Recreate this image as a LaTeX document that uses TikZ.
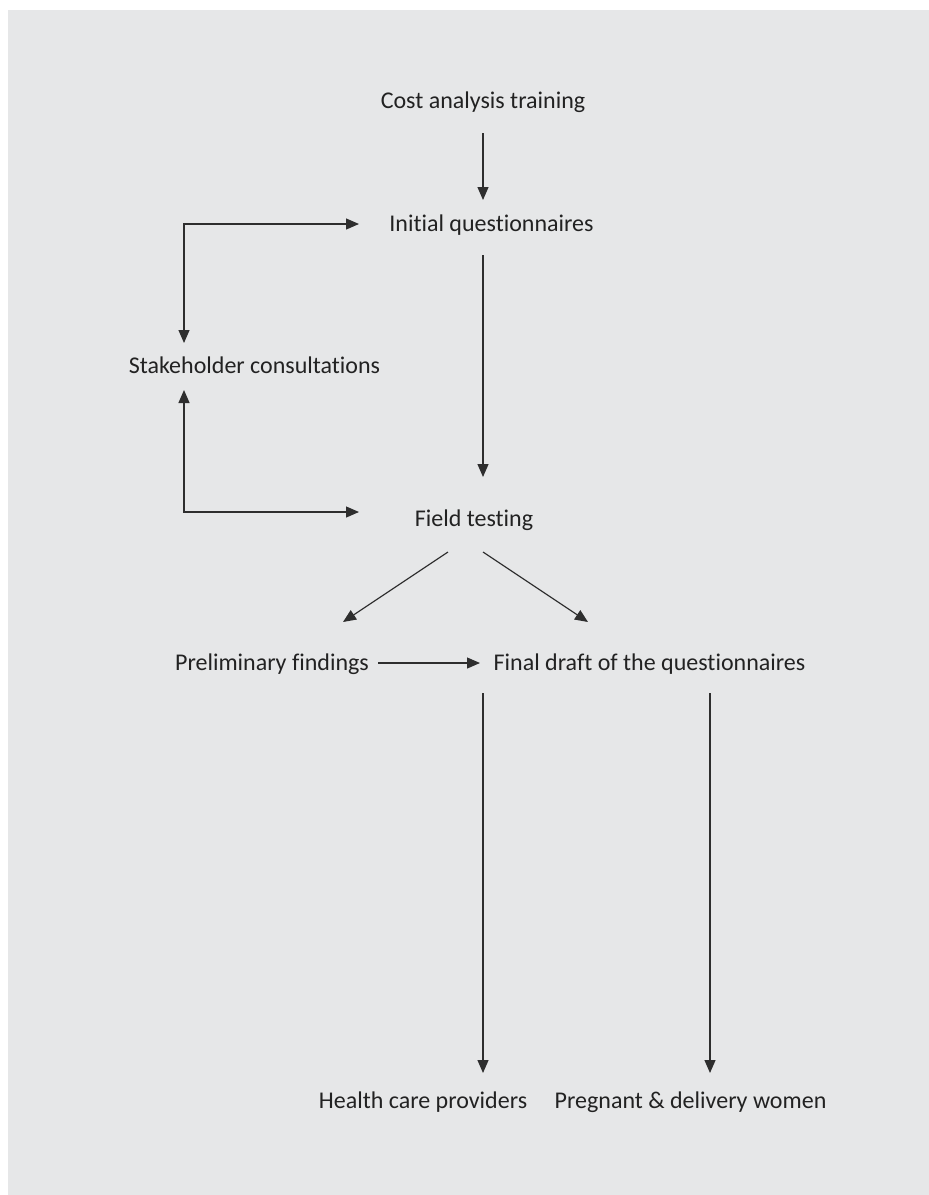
\documentclass[tikz,border=0pt]{standalone}
\usepackage{fontspec}
\setmainfont[Ligatures={NoCommon,NoRare,NoDiscretionary}]{Carlito}
\usetikzlibrary{arrows.meta,calc}
\definecolor{panel}{HTML}{E6E7E8}
\definecolor{ink}{HTML}{222222}
\definecolor{wire}{HTML}{2E2E2E}
\tikzset{
  label/.style={anchor=base, inner sep=0pt, text=ink, font=\fontsize{24}{28}\selectfont},
  arr/.style={draw=wire, line width=1.2pt, -{Triangle[length=13pt,width=11pt]}},
  arrboth/.style={draw=wire, line width=1.2pt, {Triangle[length=13pt,width=11pt]}-{Triangle[length=13pt,width=11pt]}}
}
\begin{document}
\begin{tikzpicture}[x=1pt,y=-1pt]
  \useasboundingbox (0,0) rectangle (929,1195);
  \fill[white] (0,0) rectangle (929,1195);
  \fill[panel] (8,10) rectangle (929,1195);

  % steps of the process
  \node[label] (cost)   at (483,108)   {Cost analysis training};
  \node[label] (init)   at (491.5,231) {Initial questionnaires};
  \node[label] (stake)  at (254.5,373) {Stakeholder consultations};
  \node[label] (field)  at (474,526)   {Field testing};
  \node[label] (prelim) at (272,670)   {Preliminary findings};
  \node[label] (final)  at (649.5,670) {Final draft of the questionnaires};
  \node[label] (health) at (423,1108)  {Health care providers};
  \node[label] (preg)   at (690.5,1108){Pregnant \& delivery women};

  % main flow
  \draw[arr] ($(cost.base)+(0,25)$) -- ($(init.base)+(-8.5,-31)$);
  \draw[arr] ($(init.base)+(-8.5,24)$) -- ($(field.base)+(9,-49)$);

  % consultation loops
  \draw[arrboth] ($(stake.base)+(-70.5,-30)$) |- ($(init.base)+(-132.5,-7)$);
  \draw[arrboth] ($(stake.base)+(-70.5,17)$) |- ($(field.base)+(-115,-14)$);

  % outputs of field testing
  \draw[arr] ($(field.base)+(-26,26)$) -- ($(prelim.base)+(71,-48)$);
  \draw[arr] ($(field.base)+(9,26)$) -- ($(final.base)+(-61.5,-48)$);
  \draw[arr] ($(prelim.base)+(106,-7)$) -- ($(final.base)+(-169.5,-7)$);

  % target groups
  \draw[arr] ($(final.base)+(-166.5,23)$) -- ($(health.base)+(60,-35)$);
  \draw[arr] ($(final.base)+(60.5,23)$) -- ($(preg.base)+(19.5,-35)$);
\end{tikzpicture}
\end{document}
